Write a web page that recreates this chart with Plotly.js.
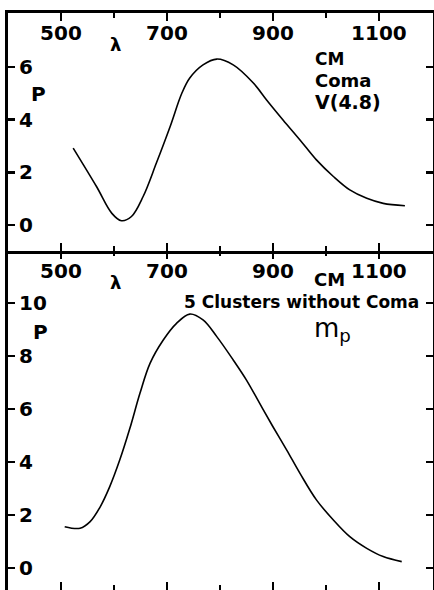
<!DOCTYPE html>
<html><head><meta charset="utf-8">
<script src="https://cdn.plot.ly/plotly-3.0.1.min.js"></script>
<style>html,body{margin:0;padding:0;background:#fff}#c{width:434px;height:590px}</style>
</head><body><div id="c"></div>
<script>
// Top panel: CM Coma V(4.8)
const comaLambda = [523,567,596,614,633,655,680,706,728,743,768,794,825,863,888,919,951,982,1014,1045,1077,1108,1149];
const comaP      = [2.92,1.46,0.44,0.16,0.32,1.08,2.35,3.74,5.0,5.58,6.08,6.3,6.08,5.39,4.75,3.99,3.23,2.47,1.84,1.33,1.01,0.82,0.73];
// Bottom panel: CM 5 Clusters without Coma m_p
const clLambda = [507,536,555,574,592,611,630,649,668,693,718,743,768,794,825,850,875,900,926,951,982,1014,1045,1077,1108,1143];
const clP      = [1.56,1.50,1.75,2.31,3.07,4.08,5.27,6.59,7.72,8.6,9.23,9.58,9.36,8.73,7.85,7.09,6.21,5.33,4.45,3.57,2.57,1.81,1.18,0.74,0.43,0.24];
const xTickVals = [500,700,900,1100];
const xMinorVals = [600,800,1000];
const topYTicks = [0,2,4,6];
const botYTicks = [0,2,4,6,8,10];

const F = "DejaVu Sans, sans-serif";
const tickFont = {family:F, size:20, color:'#000', weight:'bold'};

function xAx(anchor, showline){
  return {range:[400,1202], anchor:anchor, side:'top', showgrid:false, zeroline:false,
    showline:showline, linewidth:3, linecolor:'#000', mirror:'ticks',
    ticks:'inside', ticklen:8, tickwidth:2.5, tickcolor:'#000',
    tickvals:xTickVals, ticklabelposition:'inside', tickfont:tickFont, ticklabelstandoff:6,
    minor:{tickvals:xMinorVals, ticks:'inside', ticklen:5, tickwidth:2.5, tickcolor:'#000'}};
}
function yAx(anchor, range, vals, domain){
  return {range:range, anchor:anchor, domain:domain, showgrid:false, zeroline:false,
    showline:true, linewidth:3, linecolor:'#000', mirror:'ticks',
    ticks:'inside', ticklen:7, tickwidth:2.5, tickcolor:'#000',
    tickvals:vals, ticklabelposition:'inside', tickfont:tickFont, ticklabelstandoff:5};
}

const data = [
  {x:comaLambda, y:comaP, xaxis:'x', yaxis:'y', mode:'lines', line:{color:'#000', width:1.6, shape:'spline', smoothing:1}, hoverinfo:'skip'},
  {x:clLambda, y:clP, xaxis:'x2', yaxis:'y2', mode:'lines', line:{color:'#000', width:1.6, shape:'spline', smoothing:1}, hoverinfo:'skip'}
];

const annF = {family:F, size:19, color:'#000', weight:'bold'};
function ann(xr, yr, x, y, text, extra){
  return Object.assign({xref:xr, yref:yr, x:x, y:y, text:text, showarrow:false, font:annF}, extra||{});
}

const layout = {
  width:434, height:590, paper_bgcolor:'#fff', plot_bgcolor:'rgba(0,0,0,0)', showlegend:false,
  margin:{l:8, r:1, t:13, b:0},
  xaxis: xAx('y', true),
  yaxis: yAx('x', [-0.99, 8.05], topYTicks, [0.5875, 1]),
  xaxis2: xAx('y2', false),
  yaxis2: yAx('x2', [-0.83, 11.96], botYTicks, [0, 0.5875]),
  annotations: [
    ann('x','y',458,4.98,'P',{font:Object.assign({},annF,{size:20})}),
    ann('x','y',602,6.84,'λ',{font:Object.assign({},annF,{size:18})}),
    ann('x','y',975,6.3,'CM',{xanchor:'left', font:Object.assign({},annF,{size:17})}),
    ann('x','y',975,5.5,'Coma',{xanchor:'left', font:Object.assign({},annF,{size:18})}),
    ann('x','y',975,4.67,'V(4.8)',{xanchor:'left'}),
    ann('x2','y2',462,8.9,'P',{font:Object.assign({},annF,{size:20})}),
    ann('x2','y2',602,10.79,'λ',{font:Object.assign({},annF,{size:18})}),
    ann('x2','y2',1006,10.87,'CM',{font:Object.assign({},annF,{size:18})}),
    ann('x2','y2',954,10.02,'5 Clusters without Coma',{font:Object.assign({},annF,{size:17})}),
    ann('x2','y2',1013,8.98,'m<sub>p</sub>',{font:{family:F, size:26, color:'#000'}})
  ]
};
Plotly.newPlot('c', data, layout, {staticPlot:true, displayModeBar:false});
</script></body></html>
